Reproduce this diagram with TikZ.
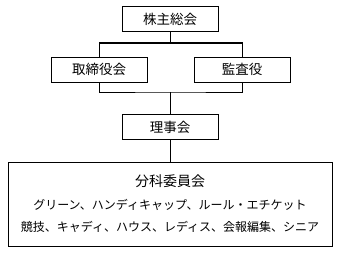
\documentclass[tikz,border=0pt]{standalone}
\usepackage{fontspec}
\newfontfamily\jpfont{Noto Sans CJK JP}
\usepackage{tikz}
\usetikzlibrary{positioning}

\begin{document}
\begin{tikzpicture}[x=1pt, y=-1pt, line width=1pt,
    orgbox/.style={draw, minimum width=96pt, minimum height=25pt, inner sep=0pt,
        font=\jpfont\fontsize{13.5}{16}\selectfont}]
        \useasboundingbox (0,0) rectangle (339,254);

        % shareholders' meeting
        \node[orgbox] (kabu) at (170,19.5) {株主総会};

        % board and auditor
        \node[orgbox] (tori) at (99,69.5) {取締役会};
        \node[orgbox] (kansa) at (242,69.5) {監査役};
        \coordinate (upjoin) at (170,43);
        \draw (kabu) -- (upjoin);
        \draw (tori.north) |- (upjoin) -| (kansa.north);

        % directors
        \node[orgbox] (riji) at (170,127) {理事会};
        \coordinate (lowjoin) at (170,92);
        \draw (tori.south) |- (lowjoin) -| (kansa.south);
        \draw (lowjoin) -- (riji);

        % committees
        \node[draw, minimum width=324pt, minimum height=84pt, inner sep=0pt, align=center,
            font=\jpfont\fontsize{12}{22.5}\selectfont] (bunka) at (170,204)
            {{\fontsize{14}{22.5}\selectfont 分科委員会}\\
             グリーン、ハンディキャップ、ルール・エチケット\\
             競技、キャディ、ハウス、レディス、会報編集、シニア};
        \draw (riji) -- (bunka);
    \end{tikzpicture}
\end{document}
